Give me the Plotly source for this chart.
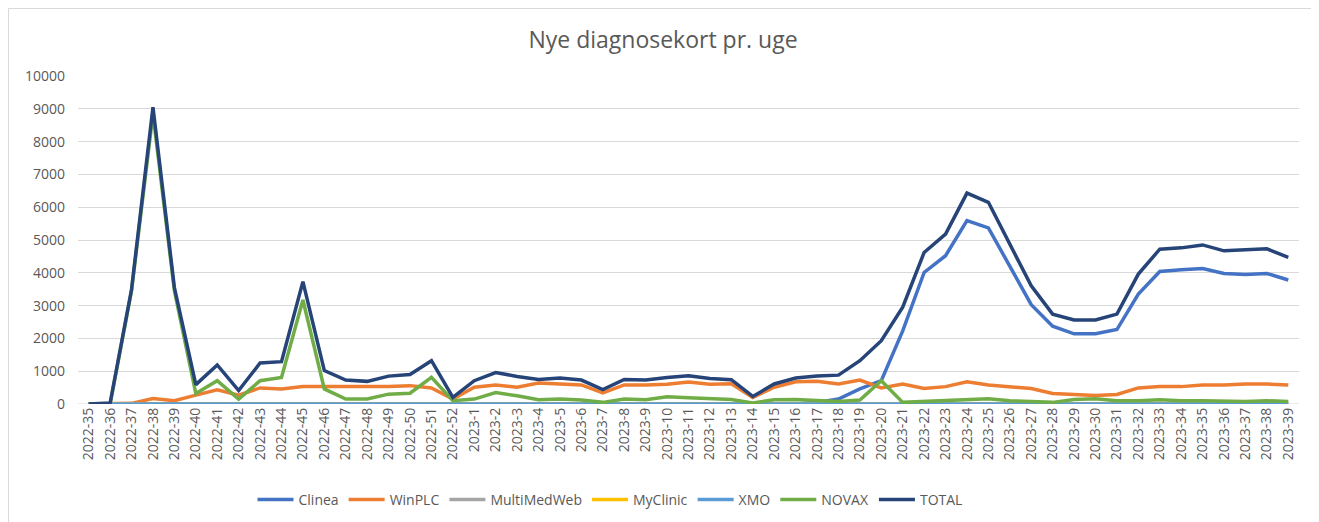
import plotly.graph_objects as go

weeks = [f"2022-{w}" for w in range(35, 53)] + [f"2023-{w}" for w in range(1, 40)]

clinea = [0]*34 + [50, 150, 460, 710, 2230, 4010, 4520, 5590, 5370, 4220, 3030, 2370, 2140, 2140, 2270,
                   3350, 4040, 4090, 4130, 3980, 3950, 3980, 3780]
winplc = [0, 20, 20, 170, 100, 270, 430, 270, 490, 460, 530, 530, 530, 530, 530, 560, 490, 150,
          510, 580, 510, 640, 620, 580, 340, 580, 580, 600, 670, 600, 620, 200, 510, 680, 690, 610,
          730, 490, 610, 470, 530, 680, 580, 530, 470, 320, 290, 260, 290, 490, 530, 530, 580, 580,
          610, 610, 580]
multimedweb = [0]*57
myclinic = [0]*57
xmo = [0]*57
novax = [0, 0, 3450, 8850, 3450, 320, 710, 150, 710, 810, 3170, 460, 150, 150, 300, 330, 810, 100,
         150, 350, 250, 130, 150, 120, 50, 150, 130, 220, 190, 170, 140, 30, 130, 140, 100, 80,
         120, 710, 50, 80, 100, 130, 160, 100, 80, 50, 140, 160, 100, 100, 130, 100, 100, 80,
         80, 100, 80]
total = [0, 30, 3500, 9050, 3550, 590, 1190, 410, 1250, 1290, 3730, 1020, 730, 690, 850, 900, 1320, 200,
         710, 960, 840, 750, 790, 730, 440, 750, 730, 810, 860, 780, 740, 230, 610, 790, 850, 880,
         1320, 1930, 2950, 4620, 5180, 6430, 6150, 4880, 3600, 2740, 2560, 2560, 2740, 3960, 4720,
         4760, 4850, 4670, 4700, 4730, 4470]

series = [
    ("Clinea", clinea, "#4472C4"),
    ("WinPLC", winplc, "#ED7D31"),
    ("MultiMedWeb", multimedweb, "#A5A5A5"),
    ("MyClinic", myclinic, "#FFC000"),
    ("XMO", xmo, "#5B9BD5"),
    ("NOVAX", novax, "#70AD47"),
    ("TOTAL", total, "#264478"),
]

fig = go.Figure()
for name, vals, col in series:
    fig.add_trace(go.Scatter(x=weeks, y=vals, name=name, mode="lines",
                             line=dict(color=col, width=3.5)))

# page has an 8px body margin; figure coordinates = screen coordinates - 8
OFF = 8
W, H = 1319 - OFF, 522 - OFF
L, R, T, B = 78 - OFF, W - (1299 - OFF), 76 - OFF, H - (404 - OFF)
PW, PH = W - L - R, H - T - B

font_family = "'Open Sans', sans-serif"
fig.update_layout(
    width=W, height=H,
    margin=dict(l=L, r=R, t=T, b=B, autoexpand=False),
    paper_bgcolor="white", plot_bgcolor="white",
    font=dict(family=font_family, color="#595959", size=14),
    title=dict(text="Nye diagnosekort pr. uge", x=(663 - OFF) / W, xanchor="center",
               y=1 - (40 - OFF) / H, yanchor="middle", font=dict(size=23, color="#595959")),
    xaxis=dict(type="category", categoryorder="array", categoryarray=weeks,
               range=[-0.5, 56.5], tickangle=-90, showgrid=False, zeroline=False,
               showline=False, ticks="", automargin=False,
               tickfont=dict(size=14, color="#595959")),
    yaxis=dict(range=[0, 10000], dtick=1000, tickformat="d", showgrid=True,
               gridcolor="#D9D9D9", gridwidth=1, zeroline=False, showline=False,
               ticks="", automargin=False, ticklabelstandoff=12,
               tickfont=dict(size=14, color="#595959")),
    legend=dict(orientation="h", x=(610 - 78) / PW, xanchor="center", y=-(500 - 404) / PH,
                yanchor="middle", font=dict(size=14, color="#595959"), itemwidth=36),
    showlegend=True,
)
fig.add_shape(type="line", xref="paper", yref="y", x0=0, x1=1, y0=0, y1=0,
              line=dict(color="#D9D9D9", width=1), layer="below")
fig.add_shape(type="rect", xref="paper", yref="paper",
              x0=(0.5 - L) / PW, x1=(1318 - OFF - L) / PW,
              y0=-(H + 10 - (T + PH)) / PH, y1=1 + (T - 0.5) / PH,
              line=dict(color="#D9D9D9", width=1), fillcolor="rgba(0,0,0,0)", layer="below")

fig.write_html("out.html")
